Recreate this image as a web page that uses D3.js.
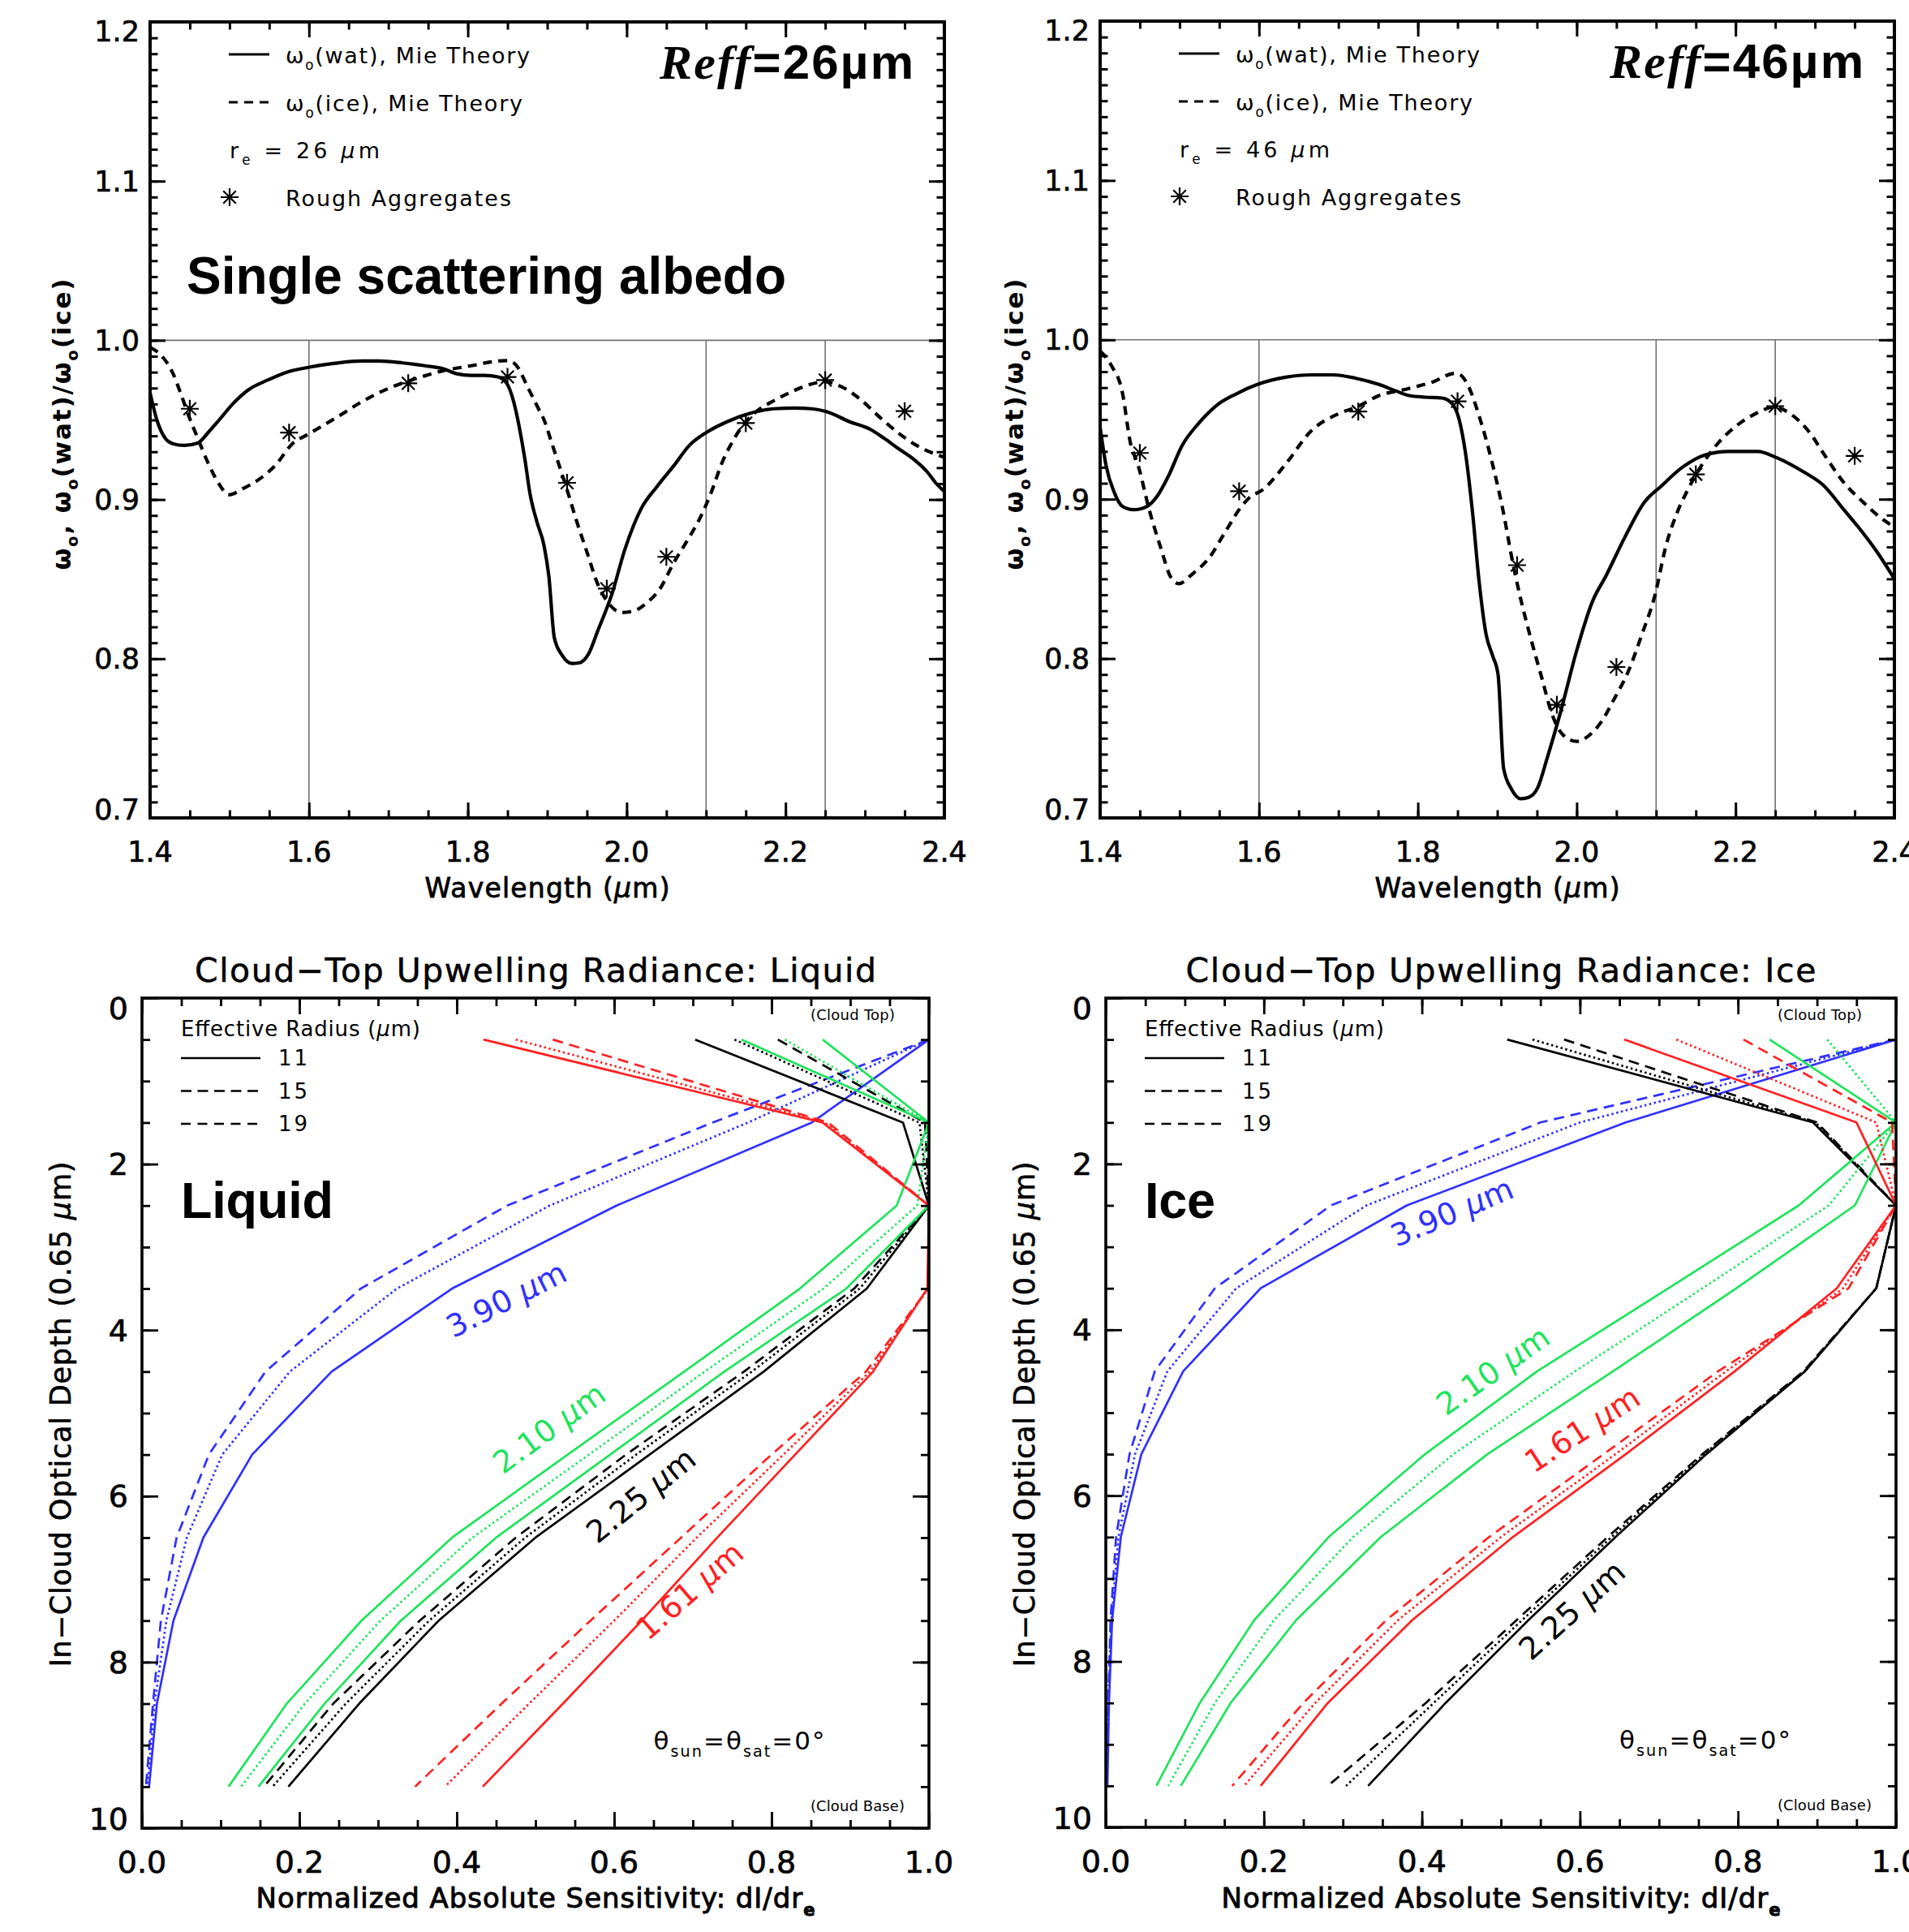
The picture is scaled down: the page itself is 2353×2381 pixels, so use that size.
<!DOCTYPE html>
<html><head><meta charset="utf-8">
<script src="https://cdnjs.cloudflare.com/ajax/libs/d3/7.8.5/d3.min.js"></script>
<style>
html,body{margin:0;padding:0;background:#fff;}
svg{display:block;}
</style></head><body>
<svg id="chart" width="2353" height="2381" xmlns="http://www.w3.org/2000/svg"></svg>
<script>
// ================= DATA =================
const wavelengthTicks = [1.4, 1.6, 1.8, 2.0, 2.2, 2.4];
const albedoTicks = [0.7, 0.8, 0.9, 1.0, 1.1, 1.2];
const guideWavelengths = [1.6, 2.1, 2.25];

// r_e = 26 um : omega0(wat) Mie (solid)
const wat26 = [[1.400,0.967],[1.4085,0.950],[1.419,0.9385],[1.429,0.935],[1.443,0.934],[1.460,0.9355],[1.473,0.942],[1.487,0.950],[1.504,0.960],[1.524,0.969],[1.548,0.975],[1.572,0.980],[1.599,0.983],[1.633,0.9856],[1.667,0.987],[1.688,0.987],[1.718,0.9858],[1.746,0.984],[1.770,0.982],[1.786,0.979],[1.804,0.978],[1.821,0.978],[1.838,0.977],[1.849,0.973],[1.858,0.961],[1.865,0.945],[1.872,0.925],[1.878,0.9045],[1.887,0.886],[1.896,0.871],[1.902,0.852],[1.909,0.813],[1.919,0.802],[1.931,0.797],[1.941,0.7975],[1.952,0.803],[1.964,0.818],[1.981,0.840],[1.998,0.869],[2.018,0.894],[2.038,0.908],[2.059,0.921],[2.079,0.934],[2.100,0.942],[2.127,0.949],[2.154,0.954],[2.185,0.957],[2.212,0.9575],[2.233,0.957],[2.253,0.955],[2.280,0.949],[2.307,0.944],[2.324,0.9385],[2.342,0.932],[2.362,0.925],[2.379,0.917],[2.389,0.9105],[2.400,0.905]];
// r_e = 26 um : omega0(ice) Mie (dashed)
const ice26 = [[1.400,0.9955],[1.415,0.990],[1.429,0.979],[1.439,0.966],[1.449,0.952],[1.460,0.9385],[1.473,0.923],[1.487,0.9096],[1.499,0.903],[1.5175,0.907],[1.538,0.913],[1.558,0.9216],[1.579,0.935],[1.599,0.941],[1.633,0.951],[1.667,0.9615],[1.701,0.970],[1.735,0.976],[1.770,0.981],[1.804,0.984],[1.838,0.987],[1.851,0.9873],[1.863,0.983],[1.875,0.971],[1.889,0.957],[1.896,0.950],[1.906,0.935],[1.916,0.920],[1.926,0.9045],[1.936,0.888],[1.950,0.867],[1.9635,0.847],[1.977,0.835],[1.994,0.829],[2.008,0.8298],[2.025,0.835],[2.042,0.844],[2.059,0.860],[2.076,0.874],[2.093,0.889],[2.1065,0.9045],[2.120,0.923],[2.134,0.937],[2.147,0.947],[2.164,0.9555],[2.185,0.962],[2.209,0.968],[2.229,0.972],[2.2495,0.974],[2.270,0.971],[2.294,0.963],[2.318,0.952],[2.3415,0.942],[2.365,0.934],[2.386,0.929],[2.400,0.9266]];
// r_e = 26 um : rough aggregates
const agg26 = [[1.45,0.957],[1.575,0.942],[1.725,0.973],[1.85,0.977],[1.925,0.9105],[1.975,0.844],[2.05,0.864],[2.15,0.948],[2.25,0.975],[2.35,0.9555]];

// r_e = 46 um
const wat46 = [[1.400,0.945],[1.4075,0.921],[1.418,0.904],[1.428,0.8955],[1.442,0.8934],[1.459,0.8955],[1.472,0.902],[1.486,0.9145],[1.503,0.9335],[1.523,0.947],[1.547,0.959],[1.571,0.966],[1.598,0.972],[1.632,0.9764],[1.666,0.978],[1.693,0.978],[1.721,0.976],[1.751,0.972],[1.772,0.968],[1.789,0.965],[1.809,0.964],[1.830,0.9635],[1.843,0.960],[1.852,0.950],[1.860,0.929],[1.869,0.891],[1.877,0.849],[1.886,0.815],[1.894,0.802],[1.901,0.790],[1.908,0.731],[1.918,0.718],[1.930,0.712],[1.940,0.713],[1.951,0.719],[1.9625,0.737],[1.980,0.767],[2.000,0.805],[2.020,0.836],[2.037,0.852],[2.061,0.8765],[2.085,0.898],[2.106,0.908],[2.133,0.920],[2.163,0.928],[2.191,0.930],[2.228,0.930],[2.252,0.926],[2.286,0.917],[2.310,0.909],[2.337,0.893],[2.357,0.881],[2.378,0.867],[2.400,0.850]];
const ice46 = [[1.400,0.993],[1.414,0.984],[1.428,0.967],[1.438,0.9356],[1.448,0.921],[1.462,0.893],[1.476,0.870],[1.489,0.851],[1.499,0.847],[1.516,0.853],[1.537,0.863],[1.557,0.879],[1.578,0.8955],[1.588,0.901],[1.605,0.906],[1.632,0.921],[1.666,0.943],[1.700,0.9536],[1.724,0.958],[1.751,0.965],[1.785,0.969],[1.819,0.9736],[1.8466,0.979],[1.8535,0.978],[1.864,0.9705],[1.877,0.9525],[1.8925,0.925],[1.908,0.891],[1.918,0.864],[1.928,0.8406],[1.942,0.813],[1.956,0.788],[1.969,0.765],[1.983,0.752],[2.000,0.748],[2.0136,0.751],[2.0306,0.760],[2.0476,0.775],[2.065,0.792],[2.082,0.815],[2.099,0.8406],[2.112,0.870],[2.126,0.891],[2.140,0.906],[2.157,0.921],[2.177,0.9346],[2.201,0.946],[2.225,0.9536],[2.2485,0.9578],[2.269,0.9536],[2.293,0.942],[2.313,0.927],[2.337,0.910],[2.361,0.898],[2.381,0.889],[2.400,0.8825]];
const agg46 = [[1.45,0.929],[1.575,0.905],[1.725,0.955],[1.85,0.9614],[1.925,0.8586],[1.975,0.771],[2.05,0.7947],[2.15,0.9156],[2.25,0.9584],[2.35,0.9272]];

// Sensitivity profiles: layer mid-depths (optical depth)
const sensTicks = [0.0, 0.2, 0.4, 0.6, 0.8, 1.0];
const depthTicks = [0, 2, 4, 6, 8, 10];
const layerDepth = [0.5, 1.5, 2.5, 3.5, 4.5, 5.5, 6.5, 7.5, 8.5, 9.5];
const radiusLabels = ["11", "15", "19"];

// Liquid
const liq390_11 = [1.0,0.851,0.603,0.394,0.241,0.140,0.078,0.040,0.019,0.009];
const liq390_15 = [1.0,0.725,0.464,0.278,0.157,0.085,0.044,0.024,0.014,0.005];
const liq390_19 = [1.0,0.770,0.518,0.324,0.188,0.102,0.057,0.031,0.016,0.007];
const liq210_11 = [0.762,1.0,1.0,0.895,0.740,0.595,0.450,0.329,0.232,0.148];
const liq210_15 = [0.865,1.0,0.959,0.836,0.689,0.541,0.394,0.279,0.184,0.110];
const liq210_19 = [0.817,1.0,0.985,0.866,0.715,0.568,0.420,0.303,0.207,0.126];
const liq225_11 = [0.703,0.967,1.0,0.921,0.790,0.645,0.500,0.377,0.276,0.186];
const liq225_15 = [0.808,0.995,1.0,0.905,0.765,0.615,0.475,0.353,0.243,0.155];
const liq225_19 = [0.753,0.988,1.0,0.912,0.775,0.628,0.487,0.365,0.259,0.166];
const liq161_11 = [0.434,0.865,1.0,0.998,0.929,0.830,0.731,0.635,0.535,0.433];
const liq161_15 = [0.522,0.872,1.0,0.999,0.920,0.800,0.685,0.570,0.457,0.347];
const liq161_19 = [0.475,0.868,1.0,0.999,0.925,0.815,0.705,0.600,0.492,0.385];
// Ice
const ice390_11 = [1.0,0.658,0.381,0.196,0.098,0.045,0.019,0.008,0.004,0.002];
const ice390_15 = [1.0,0.550,0.285,0.138,0.062,0.030,0.013,0.006,0.003,0.001];
const ice390_19 = [1.0,0.600,0.330,0.165,0.078,0.037,0.016,0.007,0.003,0.001];
const ice210_11 = [0.840,1.0,0.948,0.798,0.642,0.483,0.348,0.241,0.158,0.095];
const ice210_15 = [1.0,1.0,0.877,0.712,0.546,0.404,0.282,0.188,0.119,0.064];
const ice210_19 = [0.913,1.0,0.915,0.755,0.594,0.440,0.313,0.213,0.138,0.079];
const ice161_11 = [0.656,0.950,1.0,0.925,0.796,0.658,0.515,0.388,0.281,0.196];
const ice161_15 = [0.807,0.995,1.0,0.940,0.775,0.630,0.485,0.355,0.250,0.160];
const ice161_19 = [0.722,0.975,1.0,0.933,0.785,0.645,0.500,0.370,0.265,0.175];
const ice225_11 = [0.508,0.895,1.0,0.975,0.885,0.760,0.645,0.535,0.430,0.332];
const ice225_15 = [0.580,0.900,1.0,0.975,0.883,0.755,0.635,0.520,0.405,0.281];
const ice225_19 = [0.540,0.898,1.0,0.975,0.884,0.757,0.640,0.527,0.415,0.304];

// ================= STYLE / LAYOUT =================
const FONT = "'DejaVu Sans', sans-serif";
const ARIAL = "'Liberation Sans', Arial, sans-serif";
const TIMES = "'Liberation Serif', 'Times New Roman', serif";
const BLUE = "#3030ff", GREEN = "#1fe35c", RED = "#ff2020", BLACK = "#000000";
const svg = d3.select("#chart");

function richText(g, parts, o) {
  const fs = o.size;
  const t = g.append("text")
    .attr("x", o.x || 0).attr("y", o.y || 0)
    .attr("font-family", o.family || FONT)
    .attr("font-size", fs)
    .attr("font-weight", o.weight || "normal")
    .attr("fill", o.color || "#000")
    .attr("text-anchor", o.anchor || "start");
  if (o.transform) t.attr("transform", o.transform);
  if (o.dy) t.attr("dy", o.dy);
  if (o.stroke) t.attr("stroke", o.color || "#000").attr("stroke-width", o.stroke);
  let shift = 0;
  parts.forEach(p => {
    const s = (typeof p === "string") ? {t: p} : p;
    const ts = t.append("tspan").text(s.t);
    let target = 0;
    if (s.sub) { target = fs * 0.3; ts.attr("font-size", fs * 0.62); }
    if (s.italic) ts.attr("font-style", "italic");
    if (s.family) ts.attr("font-family", s.family);
    if (s.weight) ts.attr("font-weight", s.weight);
    if (target !== shift) { ts.attr("dy", target - shift); shift = target; }
  });
  if (o.length) t.attr("textLength", o.length).attr("lengthAdjust", "spacing");
  return t;
}

function frameAxes(g, x, y, o) {
  const [x0, x1] = x.range();
  const [yA, yB] = y.range();
  const yBot = Math.max(yA, yB), yTop = Math.min(yA, yB);
  const mk = (axisFn, scale, vals, len, tr) => {
    const a = g.append("g").attr("transform", tr)
      .call(axisFn(scale).tickValues(vals).tickSize(-len).tickFormat(""));
    a.select(".domain").remove();
    a.selectAll("line").attr("stroke", "#000").attr("stroke-width", o.tickW);
  };
  [[o.xMinor, o.minorLen], [o.xMajor, o.majorLen]].forEach(([v, l]) => {
    mk(d3.axisBottom, x, v, l, `translate(0,${yBot})`);
    mk(d3.axisTop, x, v, l, `translate(0,${yTop})`);
  });
  [[o.yMinor, o.minorLen], [o.yMajor, o.majorLen]].forEach(([v, l]) => {
    mk(d3.axisLeft, y, v, l, `translate(${x0},0)`);
    mk(d3.axisRight, y, v, l, `translate(${x1},0)`);
  });
  g.append("rect").attr("x", x0).attr("y", yTop).attr("width", x1 - x0).attr("height", yBot - yTop)
    .attr("fill", "none").attr("stroke", "#000").attr("stroke-width", o.frameW);
  // labels
  g.append("g").selectAll("text").data(o.xMajor).join("text")
    .attr("x", d => x(d)).attr("y", yBot + o.xLabelOff)
    .attr("text-anchor", "middle").attr("font-family", FONT).attr("font-size", o.labelSize)
    .attr("fill", "#000").attr("stroke", "#000").attr("stroke-width", 0.7)
    .text(o.xFmt);
  const n = o.yMajor.length;
  g.append("g").selectAll("text").data(o.yMajor).join("text")
    .attr("x", x0 - o.yLabelOff)
    .attr("y", (d, i) => {
      const yy = y(d);
      if (i === 0 || i === n - 1) return yy + (yy < (yTop + yBot) / 2 ? o.endShift : -o.endShift);
      return yy;
    })
    .attr("dy", "0.36em")
    .attr("text-anchor", "end").attr("font-family", FONT).attr("font-size", o.labelSize)
    .attr("fill", "#000").attr("stroke", "#000").attr("stroke-width", 0.7)
    .text(o.yFmt);
}

const star = "M-11,0H11M0,-11V11M-7.8,-7.8L7.8,7.8M-7.8,7.8L7.8,-7.8";

function albedoPanel(box, wat, ice, agg, reText, reffText, extra) {
  const x = d3.scaleLinear().domain([1.4, 2.4]).range([box.left, box.right]);
  const y = d3.scaleLinear().domain([0.7, 1.2]).range([box.bottom, box.top]);
  const g = svg.append("g");
  g.append("line").attr("x1", x(1.4)).attr("x2", x(2.4)).attr("y1", y(1.0)).attr("y2", y(1.0))
    .attr("stroke", "#707070").attr("stroke-width", 1.6);
  g.selectAll(".guide").data(guideWavelengths).join("line")
    .attr("x1", d => x(d)).attr("x2", d => x(d)).attr("y1", y(1.0)).attr("y2", y(0.7))
    .attr("stroke", "#707070").attr("stroke-width", 1.6);
  const line = d3.line().x(d => x(d[0])).y(d => y(d[1])).curve(d3.curveMonotoneX);
  g.append("path").datum(wat).attr("d", line).attr("fill", "none").attr("stroke", "#000")
    .attr("stroke-width", 4.2).attr("stroke-linejoin", "round");
  g.append("path").datum(ice).attr("d", line).attr("fill", "none").attr("stroke", "#000")
    .attr("stroke-width", 4.2).attr("stroke-dasharray", "11,8");
  g.selectAll(".agg").data(agg).join("path").attr("d", star)
    .attr("transform", d => `translate(${x(d[0])},${y(d[1])})`)
    .attr("stroke", "#000").attr("stroke-width", 2.2).attr("fill", "none");

  frameAxes(g, x, y, {
    xMajor: wavelengthTicks, xMinor: d3.range(0, 21).map(i => 1.4 + i * 0.05),
    yMajor: albedoTicks, yMinor: d3.range(0, 51).map(i => 0.7 + i * 0.01),
    majorLen: 19, minorLen: 9.5, tickW: 3, frameW: 4,
    xLabelOff: 54, yLabelOff: 13, labelSize: 35, endShift: 11,
    xFmt: d3.format(".1f"), yFmt: d3.format(".1f")
  });

  // legend
  const lx = box.left + 97, tx = box.left + 167;
  g.append("line").attr("x1", lx).attr("x2", lx + 50).attr("y1", box.top + 40).attr("y2", box.top + 40)
    .attr("stroke", "#000").attr("stroke-width", 3);
  richText(g, ["ω", {t: "o", sub: true}, "(wat), Mie Theory"], {x: tx, y: box.top + 51, size: 27, length: 301});
  g.append("line").attr("x1", lx).attr("x2", lx + 50).attr("y1", box.top + 99).attr("y2", box.top + 99)
    .attr("stroke", "#000").attr("stroke-width", 3).attr("stroke-dasharray", "11,8");
  richText(g, ["ω", {t: "o", sub: true}, "(ice), Mie Theory"], {x: tx, y: box.top + 110, size: 27, length: 292});
  richText(g, ["r", {t: "e", sub: true}, " = " + reText + " ", {t: "μ", italic: true}, "m"], {x: lx + 1, y: box.top + 168, size: 27, length: 185});
  g.append("path").attr("d", star).attr("transform", `translate(${lx + 1},${box.top + 216})`)
    .attr("stroke", "#000").attr("stroke-width", 2.2).attr("fill", "none");
  richText(g, ["Rough Aggregates"], {x: tx, y: box.top + 227, size: 27, length: 278});

  // Reff label
  richText(g, [{t: "Reff", family: TIMES, italic: true}, {t: "=" + reffText + "µm", family: ARIAL}],
    {x: box.left + 628, y: box.top + 70, size: 60, weight: "bold", length: 313});

  // axis titles
  richText(g, ["Wavelength (", {t: "μ", italic: true}, "m)"],
    {x: (box.left + box.right) / 2, y: 1106, size: 33, anchor: "middle", length: 302, stroke: 0.8});
  richText(g, ["ω", {t: "o", sub: true}, ",   ω", {t: "o", sub: true}, "(wat)/ω", {t: "o", sub: true}, "(ice)"],
    {size: 31, anchor: "middle", weight: "bold", length: 359, dy: "0.35em",
     transform: `translate(${box.left - (extra.yTitleGap)},523) rotate(-90)`});
}

const solid = null, dashed = "13,8", dotted = "2.5,3.5";

function sensPanel(box, series, labels, title, titleLen, tag, tagLen) {
  const x = d3.scaleLinear().domain([0, 1]).range([box.left, box.right]);
  const y = d3.scaleLinear().domain([0, 10]).range([box.top, box.bottom]);
  const g = svg.append("g");
  const line = d3.line().x(d => x(d.s)).y(d => y(d.d));
  series.forEach(s => {
    const pts = s.values.map((v, i) => ({s: v, d: layerDepth[i]}));
    const p = g.append("path").attr("d", line(pts)).attr("fill", "none")
      .attr("stroke", s.color).attr("stroke-width", 2.7).attr("stroke-linejoin", "round");
    if (s.dash) p.attr("stroke-dasharray", s.dash);
  });
  frameAxes(g, x, y, {
    xMajor: sensTicks, xMinor: d3.range(0, 21).map(i => i * 0.05),
    yMajor: depthTicks, yMinor: d3.range(0, 21).map(i => i * 0.5),
    majorLen: 20, minorLen: 10, tickW: 2.8, frameW: 3.6,
    xLabelOff: 55, yLabelOff: 17, labelSize: 38, endShift: 12,
    xFmt: d3.format(".1f"), yFmt: d3.format("d")
  });
  // title
  richText(g, [title], {x: (box.left + box.right) / 2, y: 1210, size: 41, anchor: "middle", length: titleLen, stroke: 0.5});
  // legend
  const lx = box.left + 48;
  richText(g, ["Effective Radius (", {t: "μ", italic: true}, "m)"], {x: lx, y: box.top + 47, size: 26, length: 295});
  [solid, dashed, dashed].forEach((d, i) => {
    const yy = box.top + 74 + i * 40.5;
    const l = g.append("line").attr("x1", lx).attr("x2", lx + 98).attr("y1", yy).attr("y2", yy)
      .attr("stroke", "#000").attr("stroke-width", 2.5);
    if (d) l.attr("stroke-dasharray", i === 1 ? "13,7.5" : "12,8.5");
    g.append("text").attr("x", lx + 120).attr("y", yy).attr("dy", "0.36em")
      .attr("font-family", FONT).attr("font-size", 26).attr("letter-spacing", 3).text(radiusLabels[i]);
  });
  // bold tag
  richText(g, [tag], {x: lx, y: 1501, size: 63, family: ARIAL, weight: "bold", length: tagLen});
  // wavelength labels
  labels.forEach(L => {
    richText(g, [L.t, " ", {t: "μ", italic: true}, "m"], {
      size: 38, anchor: "middle", color: L.color, length: 160, dy: "0.35em",
      transform: `translate(${x(L.s)},${y(L.d)}) rotate(${L.angle})`
    });
  });
  // annotations
  richText(g, ["θ", {t: "sun", sub: true}, "=θ", {t: "sat", sub: true}, "=0°"], {x: x(0.65), y: y(9.05), size: 31, length: 211});
  richText(g, ["(Cloud Top)"], {x: box.right - 146, y: box.top + 27, size: 18, length: 104});
  richText(g, ["(Cloud Base)"], {x: box.right - 146, y: box.bottom - 21, size: 18, length: 116});
  // axis titles
  richText(g, ["Normalized Absolute Sensitivity: dI/dr", {t: "e", sub: true, weight: "bold"}],
    {x: (box.left + box.right) / 2 + 0, y: 2351, size: 34, anchor: "middle", length: 689, stroke: 0.9});
  richText(g, ["In−Cloud Optical Depth (0.65 ", {t: "μ", italic: true}, "m)"],
    {size: 35, anchor: "middle", length: 623, dy: "0.35em", stroke: 0.6,
     transform: `translate(${box.left - 100},1743) rotate(-90)`});
}

// ================= DRAW =================
albedoPanel({left: 185, right: 1164, top: 27, bottom: 1008}, wat26, ice26, agg26, "26", "26", {yTitleGap: 109});
albedoPanel({left: 1356, right: 2335, top: 26, bottom: 1008}, wat46, ice46, agg46, "46", "46", {yTitleGap: 106});

// big label top-left
richText(svg, ["Single scattering albedo"], {x: 230, y: 362, size: 64, family: ARIAL, weight: "bold", length: 739});

const liquidSeries = [
  {values: liq390_15, color: BLUE, dash: dashed}, {values: liq390_19, color: BLUE, dash: dotted}, {values: liq390_11, color: BLUE},
  {values: liq225_15, color: BLACK, dash: dashed}, {values: liq225_19, color: BLACK, dash: dotted}, {values: liq225_11, color: BLACK},
  {values: liq210_15, color: GREEN}, {values: liq210_19, color: GREEN, dash: dotted}, {values: liq210_11, color: GREEN},
  {values: liq161_15, color: RED, dash: dashed}, {values: liq161_19, color: RED, dash: dotted}, {values: liq161_11, color: RED}
];
const iceSeries = [
  {values: ice390_15, color: BLUE, dash: dashed}, {values: ice390_19, color: BLUE, dash: dotted}, {values: ice390_11, color: BLUE},
  {values: ice225_15, color: BLACK, dash: dashed}, {values: ice225_19, color: BLACK, dash: dotted}, {values: ice225_11, color: BLACK},
  {values: ice210_15, color: GREEN}, {values: ice210_19, color: GREEN, dash: dotted}, {values: ice210_11, color: GREEN},
  {values: ice161_15, color: RED, dash: dashed}, {values: ice161_19, color: RED, dash: dotted}, {values: ice161_11, color: RED}
];
const liquidLabels = [
  {t: "3.90", color: BLUE, s: 0.463, d: 3.63, angle: -27},
  {t: "2.10", color: GREEN, s: 0.5175, d: 5.18, angle: -36},
  {t: "2.25", color: BLACK, s: 0.634, d: 5.99, angle: -39},
  {t: "1.61", color: RED, s: 0.696, d: 7.14, angle: -41}
];
const iceLabels = [
  {t: "3.90", color: BLUE, s: 0.438, d: 2.58, angle: -23},
  {t: "2.10", color: GREEN, s: 0.490, d: 4.49, angle: -35},
  {t: "1.61", color: RED, s: 0.603, d: 5.20, angle: -33},
  {t: "2.25", color: BLACK, s: 0.590, d: 7.38, angle: -42}
];
sensPanel({left: 175, right: 1145, top: 1230, bottom: 2253}, liquidSeries, liquidLabels,
  "Cloud−Top Upwelling Radiance: Liquid", 840, "Liquid", 188);
sensPanel({left: 1363, right: 2337, top: 1230, bottom: 2252}, iceSeries, iceLabels,
  "Cloud−Top Upwelling Radiance: Ice", 777, "Ice", 87);
</script>
</body></html>
